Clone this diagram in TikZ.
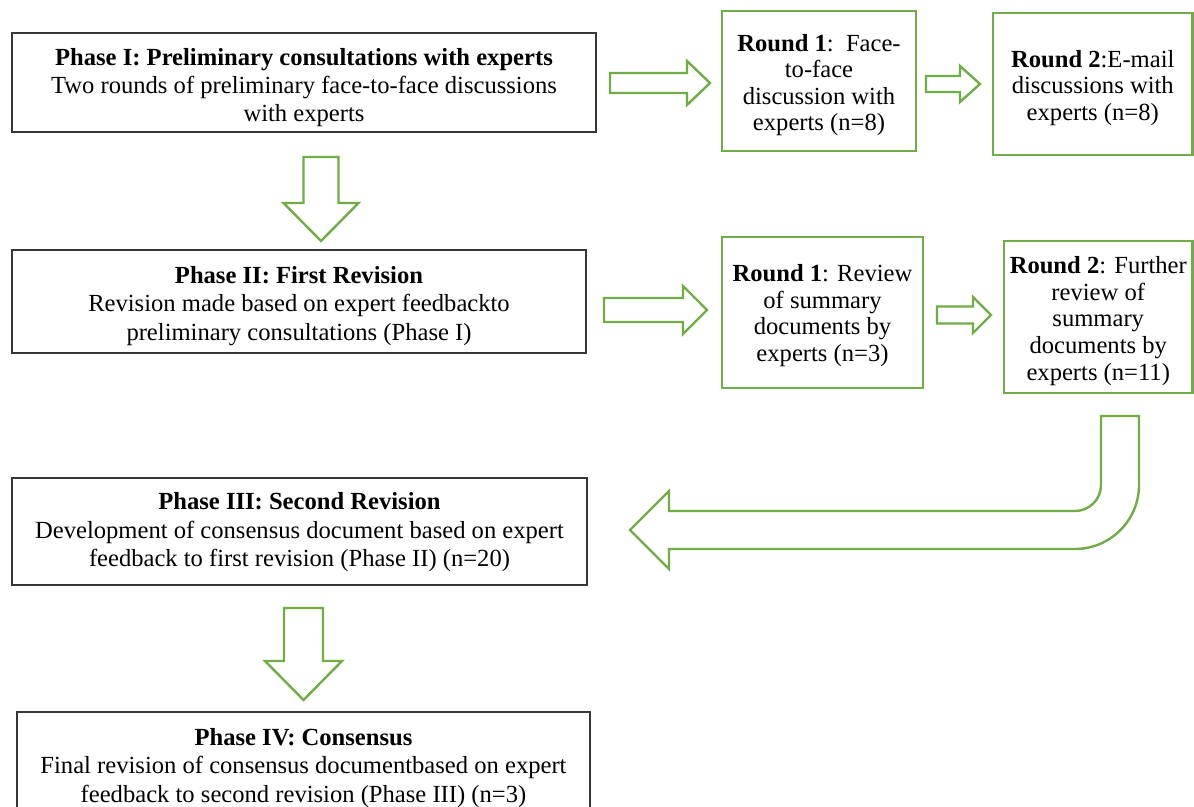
\documentclass[tikz,border=0pt]{standalone}
\usepackage{fontspec}
\setmainfont{Liberation Serif}
\definecolor{grn}{RGB}{112,173,71}
\definecolor{bdr}{RGB}{55,55,55}
\newcommand\phasefont{\fontsize{12.3}{14.2}\selectfont}
\newcommand\roundfont{\fontsize{12.3}{13.3}\selectfont}
\newcommand\harrow[6]{\draw[blockarrow] (#1,#4-#5) -- (#2,#4-#5) -- (#2,#4-#6) -- (#3,#4) -- (#2,#4+#6) -- (#2,#4+#5) -- (#1,#4+#5) -- cycle;}
\newcommand\varrow[6]{\draw[blockarrow] (#4-#5,#1) -- (#4-#5,#2) -- (#4-#6,#2) -- (#4,#3) -- (#4+#6,#2) -- (#4+#5,#2) -- (#4+#5,#1) -- cycle;}
\begin{document}
\begin{tikzpicture}[x=0.5pt,y=-0.5pt,
  phase/.style={draw=bdr, line width=0.9pt, inner sep=0pt},
  roundbox/.style={draw=grn, line width=1.3pt, inner sep=0pt},
  phasetext/.style={align=center, inner sep=0pt, font=\phasefont},
  roundtext/.style={align=center, inner sep=0pt, font=\roundfont},
  blockarrow/.style={draw=grn, line width=1.2pt, fill=white, line join=miter}]
\clip (0,0) rectangle (1194,807);
\fill[white] (0,0) rectangle (1194,807);

% phase boxes
\node[phase, minimum width=292pt, minimum height=49.5pt] (P1) at (304,82.5) {};
\node[phasetext] (P1t) at ([yshift=-2.5pt]P1.center)
  {\textbf{Phase I: Preliminary consultations with experts}\\Two rounds of preliminary face-to-face discussions\\with experts};
\node[phase, minimum width=287pt, minimum height=51.5pt] (P2) at (299,301.5) {};
\node[phasetext] (P2t) at ([yshift=-2.2pt]P2.center)
  {\textbf{Phase II: First Revision}\\Revision made based on expert feedbackto\\preliminary consultations (Phase I)};
\node[phase, minimum width=287.5pt, minimum height=53.5pt] (P3) at (299.5,531.5) {};
\node[phasetext] (P3t) at ([yshift=-0.3pt]P3.center)
  {\textbf{Phase III: Second Revision}\\Development of consensus document based on expert\\feedback to first revision (Phase II) (n=20)};
\node[phase, minimum width=286.5pt, minimum height=53pt] (P4) at (303.5,765) {};
\node[phasetext] (P4t) at ([yshift=-1.5pt]P4.center)
  {\textbf{Phase IV: Consensus}\\Final revision of consensus documentbased on expert\\feedback to second revision (Phase III) (n=3)};

% round boxes
\node[roundbox, minimum width=97pt, minimum height=70pt] (R1a) at (819,81) {};
\node[roundtext] (R1at) at ([yshift=-2pt]R1a.center)
  {\textbf{Round 1}:\ \ Face-\\to-face\\discussion with\\experts (n=8)};
\node[roundbox, minimum width=99.75pt, minimum height=71pt] (R2a) at (1092.75,84) {};
\node[roundtext] (R2at) at ([yshift=-2pt]R2a.center)
  {\textbf{Round 2}:E-mail\\discussions with\\experts (n=8)};
\node[roundbox, minimum width=100.5pt, minimum height=75.5pt] (R1b) at (822.5,312.5) {};
\node[roundtext] (R1bt) at ([yshift=-1.5pt]R1b.center)
  {\textbf{Round 1}: Review\\of summary\\documents by\\experts (n=3)};
\node[roundbox, minimum width=94.25pt, minimum height=76pt] (R2b) at (1098.25,317) {};
\node[roundtext] (R2bt) at ([yshift=-2pt]R2b.center)
  {\textbf{Round 2}: Further\\review of\\summary\\documents by\\experts (n=11)};

% block arrows
\harrow{610}{687}{710}{83}{10}{22}
\harrow{926}{960}{980}{84}{8}{18}
\harrow{604}{683}{707}{310}{12}{24}
\harrow{937}{973}{991}{315}{8.5}{18}
\varrow{157}{203}{241}{321}{17.5}{37.5}
\varrow{608}{661}{700}{303.5}{19.5}{38.5}

% U-shaped arrow from R2b to P3
\draw[blockarrow] (1101,416) -- (1139,416) -- (1139,485)
  .. controls (1139,520.3) and (1110.3,549) .. (1075,549)
  -- (669,549) -- (669,569) -- (630,530) -- (669,491) -- (669,511) -- (1075,511)
  .. controls (1089.4,511) and (1101,499.4) .. (1101,485) -- cycle;
\end{tikzpicture}
\end{document}
